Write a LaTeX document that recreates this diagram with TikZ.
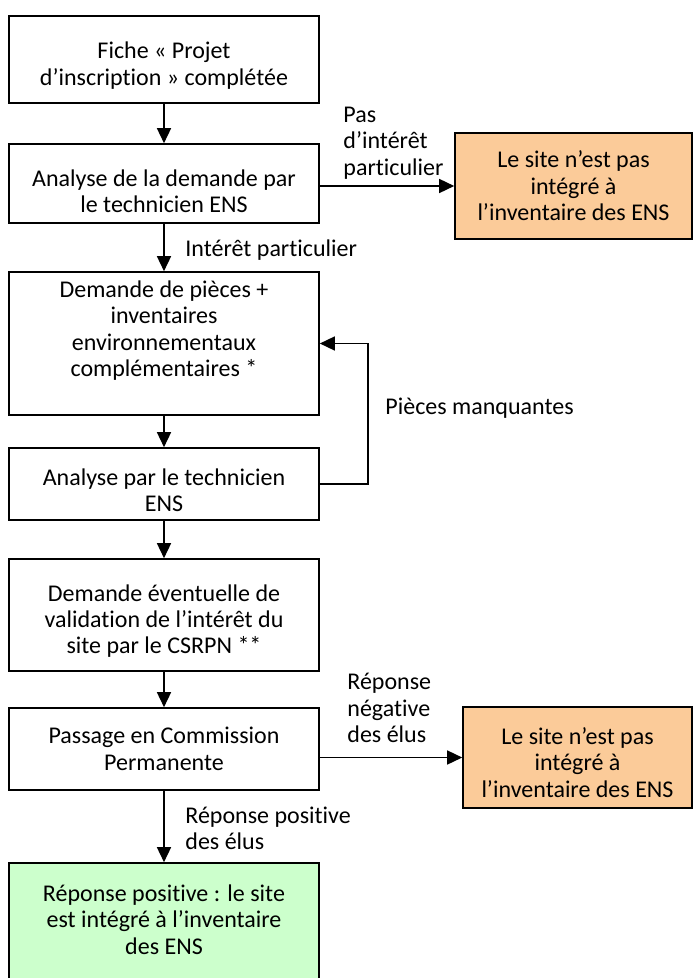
\documentclass[tikz,border=0pt]{standalone}
\usepackage{fontspec}
\setmainfont[Ligatures=NoCommon]{Carlito}
\usetikzlibrary{arrows.meta}
\definecolor{peach}{RGB}{251,203,153}
\definecolor{mint}{RGB}{204,255,204}
\begin{document}
\begin{tikzpicture}[x=0.5pt,y=-0.5pt, font=\fontsize{12}{13.2}\selectfont,
  box/.style={draw, line width=0.8pt, minimum width=155pt, align=center, inner sep=2pt},
  sidebox/.style={box, fill=peach},
  intext/.style={align=center, inner sep=0pt},
  arr/.style={line width=0.75pt, -{Triangle[length=7.5pt,width=7pt]}},
  lbl/.style={align=left, inner sep=0pt, anchor=west}]
\useasboundingbox (0,0) rectangle (698,978);
% main column
\node[box, minimum height=43.5pt,
  label={[name=b1t, intext, yshift=-3pt]center:Fiche «~Projet\\d’inscription »~complétée}] (b1) at (164,59.5) {};
\node[box, minimum height=39.5pt,
  label={[name=b2t, intext, yshift=-4pt]center:Analyse de la demande par\\le technicien ENS}] (b2) at (164,183.5) {};
\node[box, minimum height=71.5pt,
  label={[name=b3t, intext, yshift=6.5pt]center:Demande de pièces +\\inventaires\\environnementaux\\complémentaires *}] (b3) at (164,343.5) {};
\node[box, minimum height=36pt,
  label={[name=b4t, intext, yshift=-3pt]center:Analyse par le technicien\\ENS}] (b4) at (164,484) {};
\node[box, minimum height=56pt,
  label={[name=b5t, intext, yshift=-3pt]center:Demande éventuelle de\\validation de l’intérêt du\\site par le CSRPN **}] (b5) at (164,615) {};
\node[box, minimum height=41pt,
  label={[name=b6t, intext]center:Passage en Commission\\Permanente}] (b6) at (164,749) {};
\node[box, fill=mint, minimum height=68.5pt,
  label={[name=gt, intext, yshift=6pt]center:Réponse positive : le site\\est intégré à l’inventaire\\des ENS}] (g) at (164,931.5) {};
% side boxes
\node[sidebox, minimum width=118.5pt, minimum height=53pt] (o1) at (573.5,186) {Le site n’est pas\\intégré à\\l’inventaire des ENS};
\node[sidebox, minimum width=114.5pt, minimum height=50.5pt,
  label={[name=o2t, intext, yshift=-2.5pt]center:Le site n’est pas\\intégré à\\l’inventaire des ENS}] (o2) at (577.5,757.5) {};
% connectors
\draw[arr] (b1) -- (b2);
\draw[arr] (b2) -- (b3);
\draw[arr] (b3) -- (b4);
\draw[arr] (b4) -- (b5);
\draw[arr] (b5) -- (b6);
\draw[arr] (b6) -- (g);
\draw[arr] (b2.east |- o1.west) -- (o1.west);
\draw[arr] (b6.east |- o2.west) -- (o2.west);
\draw[arr] (b4.east) -- ++(48,0) |- (b3.east);
% labels
\node[lbl] (l1) at (343,143) {Pas\\d’intérêt\\particulier};
\node[lbl] (l2) at (185,250) {Intérêt particulier};
\node[lbl] (l3) at (385,408) {Pièces manquantes};
\node[lbl] (l4) at (347,708) {Réponse\\négative\\des élus};
\node[lbl] (l5) at (185,828.5) {Réponse positive\\des élus};
\end{tikzpicture}
\end{document}
